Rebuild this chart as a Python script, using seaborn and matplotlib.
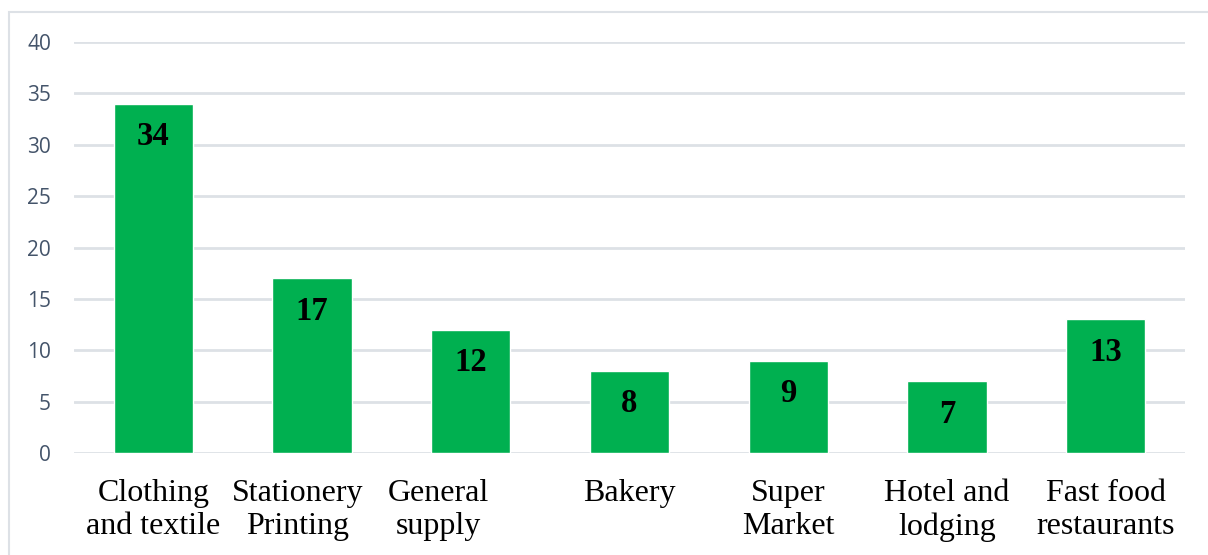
import matplotlib
matplotlib.use("Agg")
import matplotlib.pyplot as plt
import matplotlib.transforms as mtransforms
from matplotlib.patches import Rectangle
import seaborn as sns
import pandas as pd

categories = ["Clothing\nand textile", "Stationery\nPrinting", "General\nsupply",
              "Bakery", "Super\nMarket", "Hotel and\nlodging", "Fast food\nrestaurants"]
counts = [34, 17, 12, 8, 9, 7, 13]
y_ticks = [0, 5, 10, 15, 20, 25, 30, 35, 40]

df = pd.DataFrame({"category": categories, "count": counts})

sns.set_theme(style="white")
plt.rcParams["font.family"] = ["DejaVu Sans"]

fig = plt.figure(figsize=(12.08, 5.55), dpi=100)
ax = fig.add_axes([74 / 1208, 1 - 453 / 555, (1185 - 74) / 1208, (453 - 42) / 555])

sns.barplot(data=df, x="category", y="count", color="#00B050", saturation=1,
            width=0.5, ax=ax, zorder=3)

ax.set_ylim(0, 40)
ax.set_xlim(-0.5, len(categories) - 0.5)
ax.set_yticks(y_ticks)
ax.set_yticklabels([str(t) for t in y_ticks], fontfamily="Open Sans",
                   fontsize=15, color="#44546A")
ax.tick_params(axis="y", length=0, pad=16.5)
ax.tick_params(axis="x", length=0, pad=19)
for lbl in ax.get_xticklabels():
    lbl.set_fontfamily("Liberation Serif")
    lbl.set_fontsize(23)
    lbl.set_color("black")
    lbl.set_linespacing(1.17)

# nudge the two labels that sit left of their bars
for idx, dx in [(1, -14), (2, -32)]:
    lbl = ax.get_xticklabels()[idx]
    lbl.set_transform(lbl.get_transform() +
                      mtransforms.ScaledTranslation(dx / 100, 0, fig.dpi_scale_trans))

ax.set_xlabel("")
ax.set_ylabel("")
ax.grid(axis="y", color="#DDE1E6", linewidth=2, zorder=0)
ax.grid(axis="x", visible=False)
for s in ax.spines.values():
    s.set_visible(False)

for i, v in enumerate(counts):
    ax.annotate(str(v), xy=(i, v), xytext=(0, -33), textcoords="offset pixels",
                ha="center", va="center", fontsize=23.5, fontweight="bold",
                fontfamily="Liberation Serif", color="black", zorder=4)

# outer chart frame
fig.patches.append(Rectangle((9 / 1208, -0.05), 1.1, 1 - 12 / 555 + 0.05,
                             transform=fig.transFigure, fill=False,
                             edgecolor="#DDE1E6", linewidth=1.5))

fig.savefig("out.png", dpi=100)
